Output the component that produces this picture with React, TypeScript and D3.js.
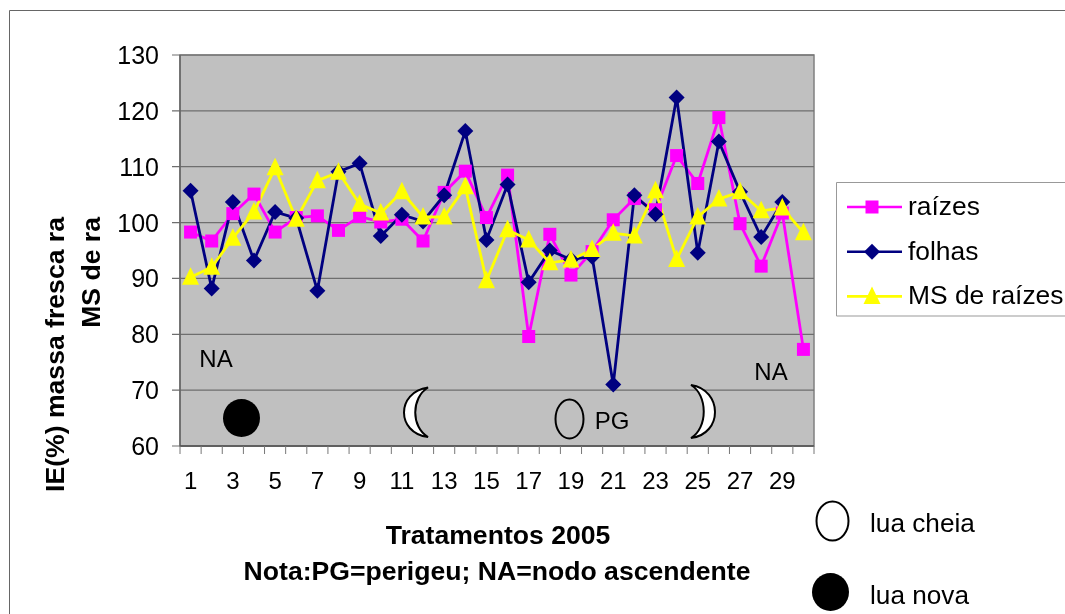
import React from "react";
import * as d3 from "d3";

const categories = d3.range(1, 31);
const raizes = [98.3, 96.7, 101.6, 105.1, 98.3, 100.9, 101.2, 98.6, 101.1, 100.1, 100.6, 96.7, 105.4, 109.2, 100.9, 108.5, 79.6, 97.9, 90.6, 94.8, 100.5, 104.3, 102.3, 112, 107, 118.8, 99.8, 92.2, 101.7, 77.3];
const folhas = [105.7, 88.2, 103.7, 93.2, 101.9, 100.8, 87.8, 109.1, 110.6, 97.6, 101.4, 100.2, 104.9, 116.4, 96.9, 106.8, 89.3, 95, 93.4, 93.9, 71, 104.9, 101.5, 122.4, 94.6, 114.5, 105.5, 97.4, 103.7];
const msRaizes = [90.2, 92, 97.2, 101.9, 109.8, 100.6, 107.5, 109, 103.3, 101.7, 105.5, 101, 101, 106.4, 89.6, 98.7, 96.9, 92.8, 93.3, 95.2, 98.1, 97.6, 105.7, 93.4, 101, 104.2, 105.5, 102.1, 102.6, 98.2];
const yTicks = [60, 70, 80, 90, 100, 110, 120, 130];
const xLabels = categories.filter((c) => c % 2 === 1);

const seriesList = [
  { name: "raízes", values: raizes, color: "#FF00FF", shape: "square" },
  { name: "folhas", values: folhas, color: "#000080", shape: "diamond" },
  { name: "MS de raízes", values: msRaizes, color: "#FFFF00", shape: "triangle" },
];

const L = 180, R = 814, T = 55, B = 446;
const x = d3.scaleBand<number>().domain(categories).range([L, R]);
const y = d3.scaleLinear().domain([60, 130]).range([B, T]);
const cx = (c: number) => x(c)! + x.bandwidth() / 2;
const font = "'Liberation Sans', Arial, sans-serif";

function Marker({ shape, color, px, py }: { shape: string; color: string; px: number; py: number }) {
  if (shape === "square") return <rect x={px - 6.5} y={py - 6.5} width={13} height={13} fill={color} />;
  if (shape === "diamond")
    return <path d={`M${px},${py - 8}L${px + 8},${py}L${px},${py + 8}L${px - 8},${py}Z`} fill={color} />;
  return <path d={`M${px},${py - 10}L${px + 8.5},${py + 7.5}L${px - 8.5},${py + 7.5}Z`} fill={color} />;
}

const line = d3.line<number>().x((_, i) => cx(categories[i])).y((d) => y(d));

export default function App() {
  return (
    <svg width={1065} height={614} style={{ position: "absolute", left: 0, top: 0, background: "#fff" }} fontFamily={font}>
      <defs>
        <filter id="soft" x="0" y="0" width="100%" height="100%">
          <feGaussianBlur stdDeviation="0.45" />
        </filter>
      </defs>
      <g filter="url(#soft)">
        <path d="M1065,10.5H9.5V614" fill="none" stroke="#666" strokeWidth={1} />
        <rect x={L} y={T} width={R - L} height={B - T} fill="#C0C0C0" stroke="#808080" strokeWidth={1.5} />
        {yTicks.map((t) => (
          <g key={t}>
            <line x1={172} x2={R} y1={y(t)} y2={y(t)} stroke="#6e6e6e" strokeWidth={1.2} />
            <text x={159} y={y(t) + 9} fontSize={25} textAnchor="end" fill="#000">{t}</text>
          </g>
        ))}
        <line x1={L} x2={L} y1={T} y2={B} stroke="#666" strokeWidth={1.5} />
        <line x1={L} x2={R} y1={B} y2={B} stroke="#555" strokeWidth={1.5} />
        {d3.range(0, 31).map((i) => {
          const px = L + i * x.step();
          return <line key={i} x1={px} x2={px} y1={B} y2={B + 8} stroke="#777" strokeWidth={1} />;
        })}
        {xLabels.map((c) => (
          <text key={c} x={cx(c)} y={489} fontSize={24} textAnchor="middle" fill="#000">{c}</text>
        ))}

        {seriesList.map((s) => (
          <path key={s.name} d={line(s.values)!} fill="none" stroke={s.color} strokeWidth={2.8} />
        ))}
        {seriesList.map((s) =>
          s.values.map((v, i) => (
            <Marker key={s.name + i} shape={s.shape} color={s.color} px={cx(categories[i])} py={y(v)} />
          ))
        )}

        {/* annotations */}
        <text x={216} y={367} fontSize={24} textAnchor="middle">NA</text>
        <text x={771} y={380} fontSize={24} textAnchor="middle">NA</text>
        <text x={612} y={429} fontSize={24} textAnchor="middle">PG</text>
        <ellipse cx={241.5} cy={418} rx={18.5} ry={19} fill="#000" />
        <ellipse cx={569.5} cy={419} rx={14} ry={19.5} fill="none" stroke="#000" strokeWidth={2} />
        <path d="M428,387.5 C396,392 396,433 428,437 C411,427 411,398 428,387.5 Z" fill="#fff" stroke="#000" strokeWidth={2} />
        <path d="M691,385 C723,390 723,434 691,438 C708,428 708,395 691,385 Z" fill="#fff" stroke="#000" strokeWidth={2} />

        {/* axis titles */}
        <g fontWeight="bold" fontSize={26.6} fill="#000">
          <text transform="translate(64,217) rotate(-90)" textAnchor="end">IE(%) massa fresca ra</text>
          <text transform="translate(100,217) rotate(-90)" textAnchor="end">MS de ra</text>
          <text x={498} y={544} textAnchor="middle">Tratamentos 2005</text>
          <text x={497} y={580} textAnchor="middle">Nota:PG=perigeu; NA=nodo ascendente</text>
        </g>

        {/* legend */}
        <path d="M1065,182.5H836.5V316H1065" fill="#fff" stroke="#999" strokeWidth={1} />
        {seriesList.map((s, i) => {
          const ly = 207 + i * 44.7;
          return (
            <g key={s.name}>
              <line x1={847} x2={902} y1={ly} y2={ly} stroke={s.color} strokeWidth={2.6} />
              <Marker shape={s.shape} color={s.color} px={872} py={ly} />
              <text x={908} y={ly + 8} fontSize={26.4} fill="#000">{s.name}</text>
            </g>
          );
        })}

        {/* moon legend */}
        <ellipse cx={832.5} cy={521} rx={16} ry={19.5} fill="#fff" stroke="#000" strokeWidth={2} />
        <text x={870} y={532} fontSize={26.2}>lua cheia</text>
        <ellipse cx={830.5} cy={592} rx={18.5} ry={19} fill="#000" />
        <text x={870} y={604} fontSize={26.2}>lua nova</text>
      </g>
    </svg>
  );
}
